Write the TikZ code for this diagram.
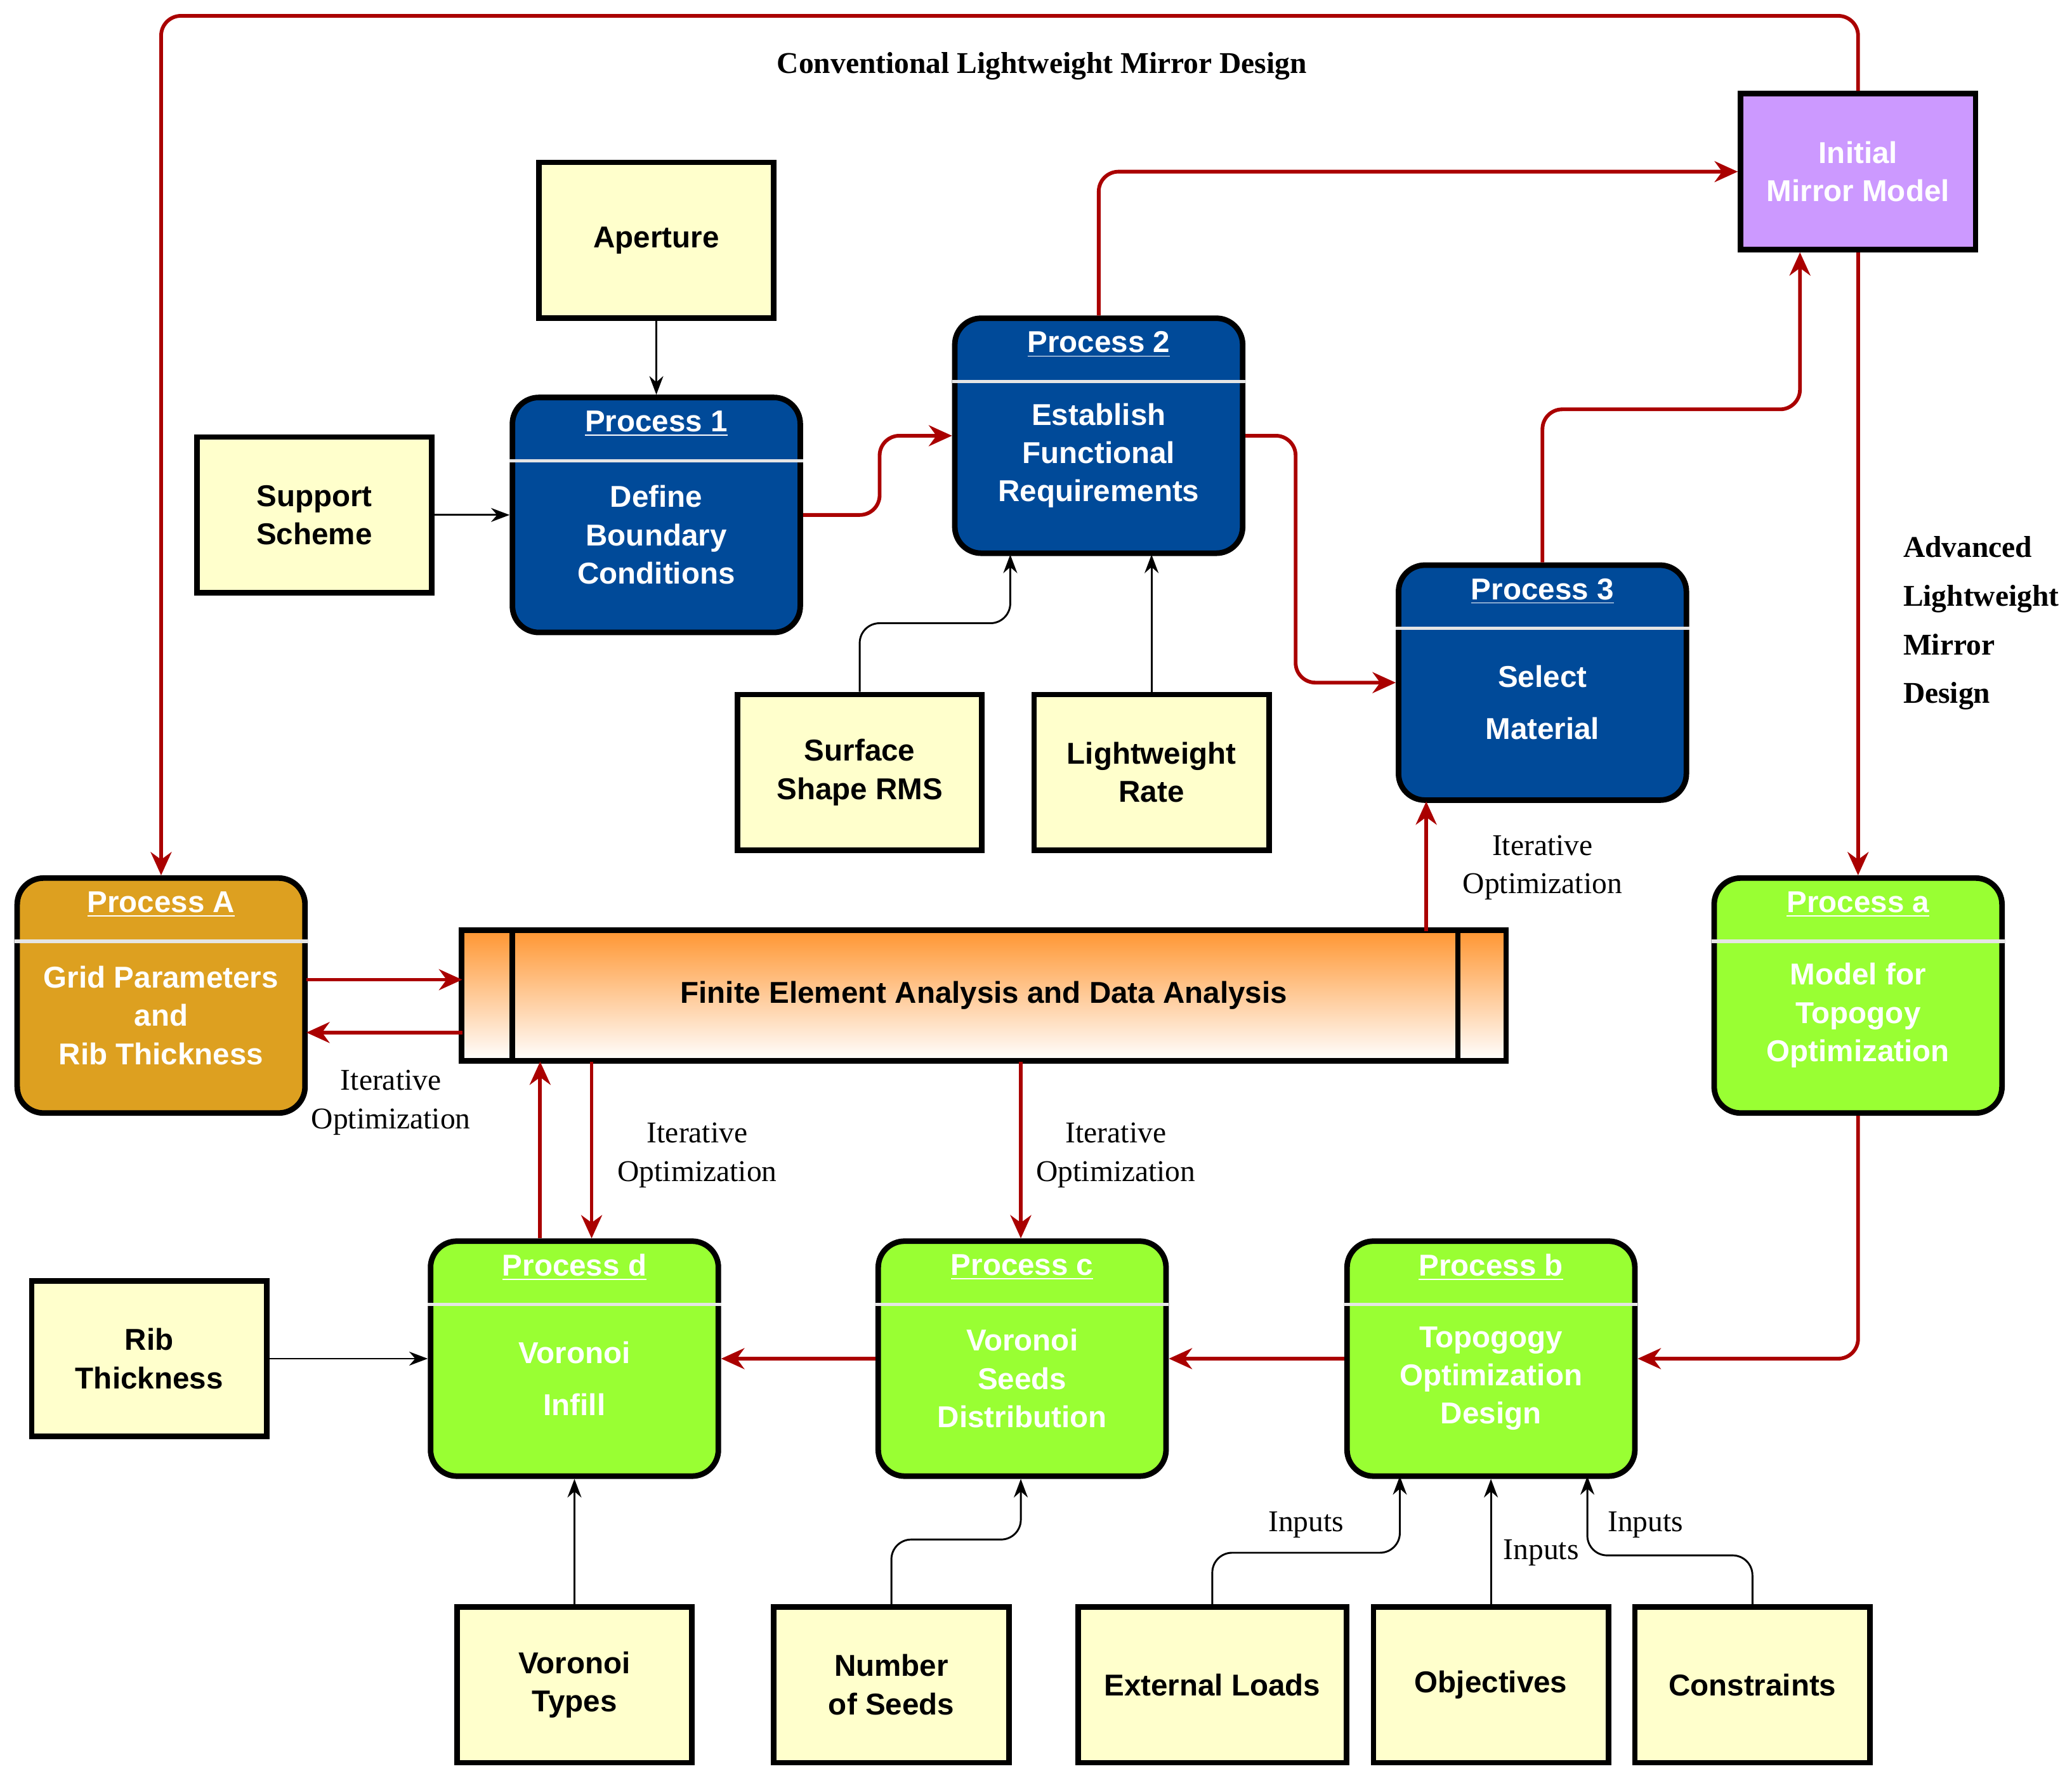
\documentclass[tikz,border=0pt]{standalone}
\usepackage{fontspec}
\setmainfont{Liberation Serif}
\setsansfont{Liberation Sans}
\usetikzlibrary{calc,arrows.meta}
\definecolor{procblue}{RGB}{0,74,153}
\definecolor{procgold}{RGB}{221,160,32}
\definecolor{procgreen}{RGB}{153,255,51}
\definecolor{inputyellow}{RGB}{255,255,204}
\definecolor{mirrorpurple}{RGB}{204,153,255}
\definecolor{flowred}{RGB}{170,0,0}
\definecolor{feaorange}{RGB}{255,150,50}
\tikzset{
  inbox/.style={draw=black, line width=2.4pt, fill=inputyellow, minimum width=3.56cm, minimum height=2.36cm, align=center, font=\sffamily\bfseries\fontsize{13}{16.5}\selectfont},
  proc/.style={draw=black, line width=2.4pt, rounded corners=0.4cm, minimum width=4.36cm, minimum height=3.56cm},
  ptitle/.style={text=white, font=\sffamily\bfseries\fontsize{13}{16.5}\selectfont},
  pbody/.style={text=white, align=center, font=\sffamily\bfseries\fontsize{13}{16.5}\selectfont},
  redflow/.style={draw=flowred, line width=1.6pt, rounded corners=0.3cm, -{Stealth[length=10pt,width=9pt]}},
  blackflow/.style={draw=black, line width=0.8pt, rounded corners=0.3cm, -{Stealth[length=8pt,width=6pt]}},
  note/.style={align=center, font=\fontsize{13}{16.5}\selectfont}
}
\newcommand\procnode[5]{%
  \node[proc, fill=#3] (#1) at (#2) {};
  \node[ptitle] at ($(#1.north)+(0,22)$) {\underline{#4}};
  \draw[white!80!gray, line width=1.5pt] ($(#1.north west)+(0,50)$) -- ($(#1.north east)+(0,50)$);
  \node[pbody] at ($(#1.center)+(0,15)$) {#5};
}
\begin{document}
\begin{tikzpicture}[x=0.02cm, y=-0.02cm]
  \useasboundingbox (0,0) rectangle (1569,1350);

  % Inputs
  \node[inbox] (aperture) at (497,182) {Aperture};
  \node[inbox] (support) at (238,390) {Support\\Scheme};
  \node[inbox, minimum width=3.7cm] (rms) at (651,585) {Surface\\Shape RMS};
  \node[inbox] (rate) at (872,585) {Lightweight\\Rate};
  \node[inbox] (rib) at (113,1029) {Rib\\Thickness};
  \node[inbox] (types) at (435,1276) {Voronoi\\Types};
  \node[inbox] (seeds) at (675,1276) {Number\\of Seeds};
  \node[inbox, minimum width=4.06cm] (loads) at (918,1276) {External Loads};
  \node[inbox] (objectives) at (1129,1276) {Objectives};
  \node[inbox] (constraints) at (1327,1276) {Constraints};
  \node[inbox, fill=mirrorpurple, text=white] (mirror) at (1407,130) {Initial\\Mirror Model};

  % Processes
  \procnode{p1}{497,390}{procblue}{Process 1}{Define\\Boundary\\Conditions}
  \procnode{p2}{832,330}{procblue}{Process 2}{Establish\\Functional\\Requirements}
  \procnode{p3}{1168,517}{procblue}{Process 3}{Select\\[6pt]Material}
  \procnode{pA}{122,754}{procgold}{Process A}{Grid Parameters\\and\\Rib Thickness}
  \procnode{pa}{1407,754}{procgreen}{Process a}{Model for\\Topogoy\\Optimization}
  \procnode{pd}{435,1029}{procgreen}{Process d}{Voronoi\\[6pt]Infill}
  \procnode{pc}{774,1029}{procgreen}{Process c}{Voronoi\\Seeds\\Distribution}
  \procnode{pb}{1129,1029}{procgreen}{Process b}{Topogogy\\Optimization\\Design}

  % Analysis bar
  \node[draw=black, line width=2.4pt, top color=feaorange, bottom color=white, minimum width=15.82cm, minimum height=1.98cm, font=\sffamily\bfseries\fontsize{13}{16.5}\selectfont] (fea) at (745,754) {Finite Element Analysis and Data Analysis};
  \draw[line width=2.4pt] (388,705) -- (388,804) (1104,705) -- (1104,804);

  % Red flow
  \draw[redflow] (p1.east) -- ++(58,0) |- (p2.west);
  \draw[redflow] (p2.north) |- ($(mirror.west)$);
  \draw[redflow] (p2.east) -- ++(38,0) |- (p3.west);
  \draw[redflow] (p3.north) |- (1363,310) -- ($(mirror.south)+(-44,0)$);
  \draw[redflow] (mirror.north) |- (122,12) -- (pA.north);
  \draw[redflow] (mirror.south) -- (pa.north);
  \draw[redflow] (pa.south) |- (pb.east);
  \draw[redflow] (pb.west) -- (pc.east);
  \draw[redflow] (pc.west) -- (pd.east);
  \draw[redflow] (773,804) -- ($(pc.north)+(-1,0)$);
  \draw[redflow] (448,804) -- ($(pd.north)+(13,0)$);
  \draw[redflow] ($(pd.north)+(-26,0)$) -- (409,804);
  \draw[redflow] (232,742) -- (350,742);
  \draw[redflow] (350,782) -- (232,782);
  \draw[redflow] (1080,705) -- (1080,607);

  % Black inputs
  \draw[blackflow] (aperture.south) -- (p1.north);
  \draw[blackflow] (support.east) -- (p1.west);
  \draw[blackflow] (rms.north) |- (765,472) -- (765,420);
  \draw[blackflow] (rate.north) -- (872,420);
  \draw[blackflow] (rib.east) -- (pd.west);
  \draw[blackflow] (types.north) -- (pd.south);
  \draw[blackflow] (seeds.north) |- (773,1166) -- ($(pc.south)+(-1,0)$);
  \draw[blackflow] (loads.north) |- (1060,1176) -- (1060,1118);
  \draw[blackflow] (objectives.north) -- (pb.south);
  \draw[blackflow] (constraints.north) |- (1202,1178) -- (1202,1118);

  % Labels
  \node[font=\bfseries\fontsize{13}{16.5}\selectfont] at (789,50) {Conventional Lightweight Mirror Design};
  \node[anchor=west, align=left, font=\bfseries\fontsize{13}{21}\selectfont] at (1435,472) {Advanced\\Lightweight\\Mirror\\Design};
  \node[note] at (1168,657) {Iterative\\Optimization};
  \node[note] at (296,835) {Iterative\\Optimization};
  \node[note] at (528,875) {Iterative\\Optimization};
  \node[note] at (845,875) {Iterative\\Optimization};
  \node[note] at (989,1155) {Inputs};
  \node[note] at (1167,1176) {Inputs};
  \node[note] at (1246,1155) {Inputs};
\end{tikzpicture}
\end{document}
